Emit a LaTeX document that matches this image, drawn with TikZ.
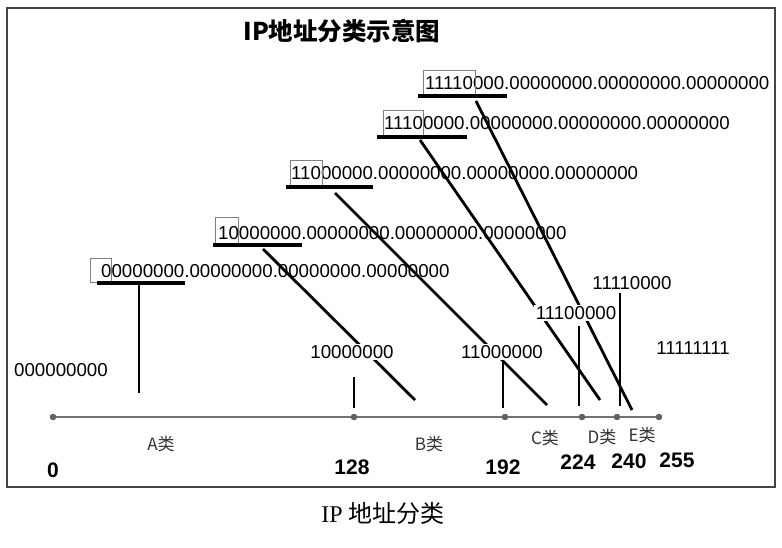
\documentclass[tikz,border=0pt]{standalone}
\usepackage{fontspec}
\setmainfont{Liberation Sans}
\newfontfamily\cjk{Noto Sans CJK SC}
\newfontfamily\capserif{Liberation Serif}
\newcommand\rowfont{\fontsize{18.7}{18.7}\selectfont}
\definecolor{axisgray}{HTML}{727272}
\definecolor{framegray}{HTML}{444444}
\definecolor{boxgray}{HTML}{808080}
\tikzset{
  rowtxt/.style={font=\rowfont, inner sep=0pt, anchor=west},
  lbl/.style={font=\rowfont, fill=white, inner sep=1.5pt},
  cls/.style={font=\cjk\fontsize{17}{17}\selectfont, inner sep=0pt, text=black!80},
  num/.style={font=\bfseries\fontsize{21}{21}\selectfont, inner sep=0pt},
  ul/.style={line width=3.2pt},
  conn/.style={line width=2.8pt},
  hbox/.style={draw=boxgray, line width=0.9pt},
  axisline/.style={line width=2.8pt, draw=axisgray},
  axisdot/.style={circle, fill=axisgray!85!black, inner sep=0pt, minimum size=6pt},
}
\begin{document}
\begin{tikzpicture}[x=1pt,y=-1pt]
\useasboundingbox (0,0) rectangle (782,548);
\fill[white] (0,0) rectangle (782,548);
\draw[framegray, line width=1.8pt] (7,8) rectangle (775,487);

% title
\node[font=\cjk\bfseries\fontsize{24.5}{24.5}\selectfont, inner sep=0pt] (title) at (342,31) {IP地址分类示意图};

% connector end points
\coordinate (a1) at (139,285); \coordinate (a2) at (139,393);
\coordinate (b1) at (263,249); \coordinate (b2) at (415,400);
\coordinate (t128a) at (354,377); \coordinate (t128b) at (354,408);
\coordinate (c1) at (335,193); \coordinate (c2) at (547,405);
\coordinate (t192a) at (503,362); \coordinate (t192b) at (503,408);
\coordinate (d1) at (420,140); \coordinate (d2) at (600,400);
\coordinate (t224a) at (579,326); \coordinate (t224b) at (579,406);
\coordinate (e1) at (476,101); \coordinate (e2) at (632,410);
\coordinate (t240a) at (620,293); \coordinate (t240b) at (620,406);

% connectors
\draw[conn] (a1) -- (a2);
\draw[conn] (b1) -- (b2);
\draw[conn] (t128a) -- (t128b);
\draw[conn] (c1) -- (c2);
\draw[conn] (t192a) -- (t192b);
\draw[conn] (d1) -- (d2);
\draw[conn] (t224a) -- (t224b);
\draw[conn] (e1) -- (e2);
\draw[conn] (t240a) -- (t240b);

% axis
\node[axisdot] (p0) at (53,417) {};
\node[axisdot] (p128) at (354,417) {};
\node[axisdot] (p192) at (505,417) {};
\node[axisdot] (p224) at (582,417) {};
\node[axisdot] (p240) at (617,417) {};
\node[axisdot] (p255) at (659,417) {};
\draw[axisline] (p0.center) -- (p255.center);
\foreach \p in {p0,p128,p192,p224,p240,p255}{\fill[axisgray!85!black] (\p) circle (3.2pt);}

% address rows
\node[rowtxt] (rE) at (425,83) {11110000.00000000.00000000.00000000};
\node[rowtxt] (rD) at (384,123) {11100000.00000000.00000000.00000000};
\node[rowtxt] (rC) at (291,173) {11000000.00000000.00000000.00000000};
\node[rowtxt] (rB) at (218,233) {10000000.00000000.00000000.00000000};
\node[rowtxt] (rA) at (101,271) {00000000.00000000.00000000.00000000};

% prefix boxes
\draw[hbox] (423,70) rectangle (475,95);
\draw[hbox] (383,110) rectangle (423,136);
\draw[hbox] (290,160) rectangle (322,185);
\draw[hbox] (215,217) rectangle (238,243);
\draw[hbox] (90,258) rectangle (111,282);

% underlines
\draw[ul] (418,96) -- (507,96);
\draw[ul] (377,137) -- (467,137);
\draw[ul] (286,187) -- (373,187);
\draw[ul] (213,245) -- (302,245);
\draw[ul] (97,283) -- (185,283);

% boundary labels
\node[lbl] (l0) at (61,370) {000000000};
\node[lbl] (l128) at (352,352) {10000000};
\node[lbl] (l192) at (502,352) {11000000};
\node[lbl] (l224) at (576,313) {11100000};
\node[lbl] (l240) at (632,283) {11110000};
\node[lbl] (l255) at (693,348) {11111111};

% class labels
\node[cls] (cA) at (161,444) {A类};
\node[cls] (cB) at (429,444) {B类};
\node[cls] (cC) at (545,438) {C类};
\node[cls] (cD) at (602,437) {D类};
\node[cls] (cE) at (642,435) {E类};

% numbers
\node[num] (n0) at (53,470) {0};
\node[num] (n128) at (352,467) {128};
\node[num] (n192) at (503,467) {192};
\node[num] (n224) at (578,462) {224};
\node[num] (n240) at (629,461) {240};
\node[num] (n255) at (677,460) {255};

% caption
\node[inner sep=0pt, font=\fontsize{24}{24}\selectfont] (cap) at (383,513) {\capserif IP\ \cjk 地址分类};
\end{tikzpicture}
\end{document}
